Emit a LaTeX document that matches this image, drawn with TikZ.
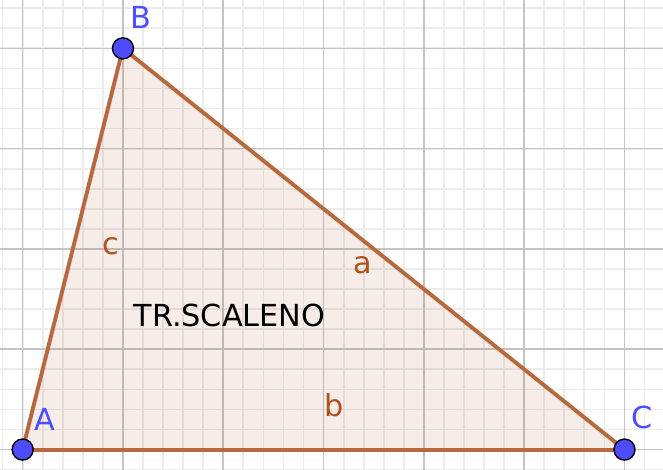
\documentclass[tikz,border=0pt]{standalone}
\usepackage{fontspec}
\setmainfont{DejaVu Sans}
\definecolor{ggbblue}{RGB}{77,77,255}
\definecolor{ggbbrown}{RGB}{184,104,62}
\definecolor{ggblabel}{RGB}{176,82,28}
\definecolor{gridminor}{RGB}{236,236,236}
\definecolor{gridmajor}{RGB}{196,196,196}
\begin{document}
\begin{tikzpicture}[
            point/.style={circle, draw=black, line width=0.4pt, fill=ggbblue, minimum size=2.1mm, inner sep=0pt},
            side/.style={draw=ggbbrown, line width=1.1pt},
            vlabel/.style={text=ggbblue, inner sep=0pt, font=\fontsize{8.6}{10}\selectfont},
            slabel/.style={text=ggblabel, inner sep=0pt, font=\fontsize{8.6}{10}\selectfont}
        ]
            \useasboundingbox (-0.226,-0.194) rectangle (6.384,4.482);
            \clip (-0.226,-0.194) rectangle (6.384,4.482);
            % grid
            \draw[gridminor, line width=0.5pt, step=0.2] (-0.4,-0.4) grid (6.6,4.6);
            \draw[gridmajor, line width=0.45pt, step=1] (-1,-1) grid (7,5);
            % triangle
            \coordinate (A) at (0, 0);
            \coordinate (B) at (1, 4);
            \coordinate (C) at (6, 0);
            \fill[ggbbrown, opacity=0.12] (A) -- (B) -- (C) -- cycle;
            \draw[side] (A) -- (B);
            \draw[side] (B) -- (C);
            \draw[side] (C) -- (A);
            \node[point] (pA) at (A) {};
            \node[point] (pB) at (B) {};
            \node[point] (pC) at (C) {};
            \node[vlabel] (lA) at (0.217, 0.304) {A};
            \node[vlabel] (lB) at (1.174, 4.312) {B};
            \node[vlabel] (lC) at (6.180, 0.319) {C};
            \node[slabel] (la) at (3.393, 1.839) {a};
            \node[slabel] (lb) at (3.109, 0.444) {b};
            \node[slabel] (lc) at (0.880, 2.024) {c};
            \node[inner sep=0pt, font=\fontsize{8.6}{10}\selectfont] (name) at (2.062, 1.341) {TR.SCALENO};
        \end{tikzpicture}
\end{document}
